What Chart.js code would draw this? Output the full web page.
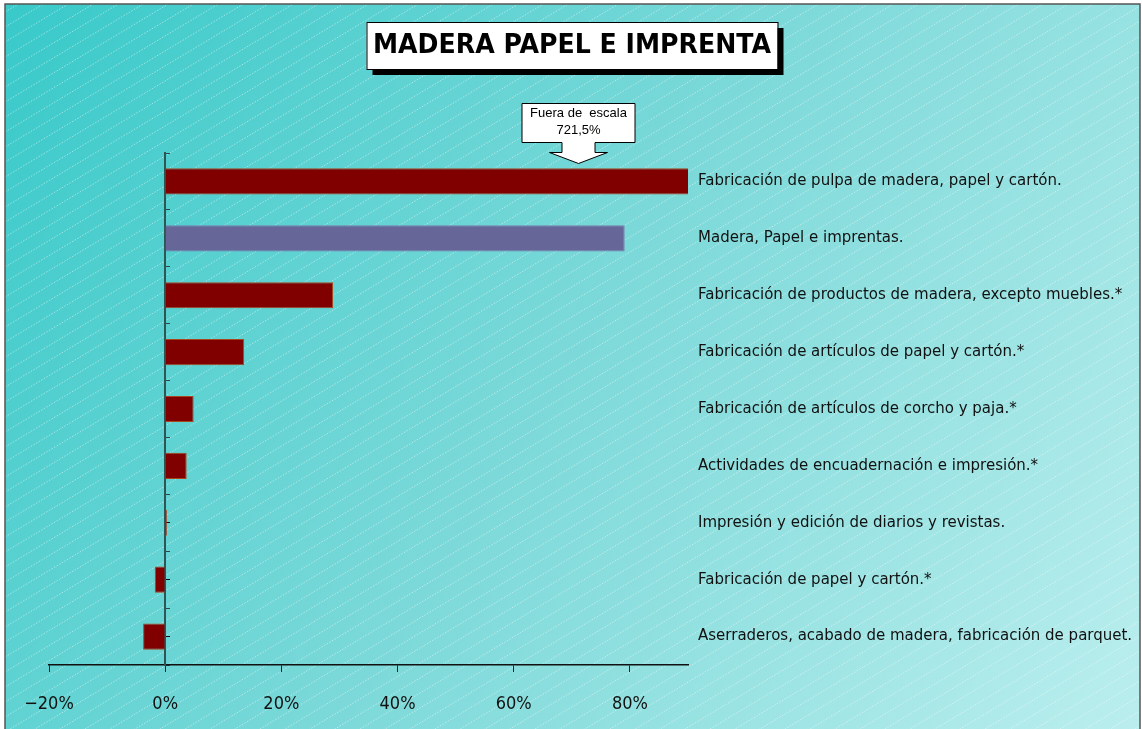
<!DOCTYPE html>
<html><head><meta charset="utf-8">
<script src="https://cdn.jsdelivr.net/npm/chart.js@4/dist/chart.umd.min.js"></script>
<style>html,body{margin:0;padding:0;background:#fff;}#wrap{width:1142px;height:729px;}</style>
</head><body><div id="wrap"><canvas id="c" width="1142" height="729"></canvas></div>
<script>
const categories = [
  'Fabricación de pulpa de madera, papel y cartón.',
  'Madera, Papel e imprentas.',
  'Fabricación de productos de madera, excepto muebles.*',
  'Fabricación de artículos de papel y cartón.*',
  'Fabricación de artículos de corcho y paja.*',
  'Actividades de encuadernación e impresión.*',
  'Impresión y edición de diarios y revistas.',
  'Fabricación de papel y cartón.*',
  'Aserraderos, acabado de madera, fabricación de parquet.'
];
const values = [721.5, 79.1, 28.9, 13.6, 4.9, 3.7, 0.3, -1.8, -3.8];
const barColors = ['#800000', '#666699', '#800000', '#800000', '#800000', '#800000', '#800000', '#800000', '#800000'];
const barBorders = ['#a8451c', '#7a7aaa', '#a8451c', '#a8451c', '#a8451c', '#a8451c', '#c2501a', '#a8451c', '#a8451c'];
const xTickValues = [-20, 0, 20, 40, 60, 80];
const xMin = -20, xMax = 90;
const titleText = 'MADERA PAPEL E IMPRENTA';
const calloutLines = ['Fuera de  escala', '721,5%'];
const calloutAtValue = 71;

const backdrop = {
  id: 'backdrop',
  beforeDraw(chart) {
    const {ctx, width, height} = chart;
    ctx.save();
    ctx.fillStyle = '#ffffff';
    ctx.fillRect(0, 0, width, height);
    const fx = 5, fy = 4, fw = 1135, fh = height + 10;
    const g = ctx.createLinearGradient(0, 0, width, height);
    g.addColorStop(0, '#38c9c9');
    g.addColorStop(0.5, '#7dd9d9');
    g.addColorStop(1, '#bbeeee');
    ctx.fillStyle = g;
    ctx.fillRect(fx, fy, fw, fh);
    ctx.beginPath();
    ctx.rect(fx, fy, fw, fh);
    ctx.clip();
    ctx.strokeStyle = 'rgba(255,255,255,0.45)';
    ctx.lineWidth = 1;
    ctx.setLineDash([1.5, 1.5]);
    const slope = 0.6, step = 15;
    for (let c = 0; c < height + width * slope + step; c += step) {
      ctx.beginPath();
      ctx.moveTo(0, c);
      ctx.lineTo(width, c - width * slope);
      ctx.stroke();
    }
    ctx.restore();
  },
  afterDraw(chart) {
    const {ctx, width, height, chartArea} = chart;
    const xs = chart.scales.x;
    ctx.save();
    ctx.fillStyle = '#ffffff';
    ctx.fillRect(1140, 0, width - 1140, height);
    ctx.strokeStyle = '#555';
    ctx.lineWidth = 1.5;
    ctx.strokeRect(5, 4, 1135, height + 10);

    // title box
    const tw = 411, th = 47, tcx = width / 2 + 1, ty = 22;
    const tx = tcx - tw / 2;
    ctx.fillStyle = '#000';
    ctx.fillRect(tx + 6, ty + 6, tw, th);
    ctx.fillStyle = '#fff';
    ctx.fillRect(tx, ty, tw, th);
    ctx.strokeStyle = '#000';
    ctx.lineWidth = 1;
    ctx.strokeRect(tx + 0.5, ty + 0.5, tw, th);
    ctx.font = 'bold 26px "DejaVu Sans"';
    ctx.fillStyle = '#000';
    ctx.textAlign = 'center';
    ctx.textBaseline = 'middle';
    const mw = ctx.measureText(titleText).width;
    const sx = 398 / mw;
    ctx.save();
    ctx.translate(tcx, ty + th / 2 + 1);
    ctx.scale(sx, 1);
    ctx.fillText(titleText, 0, 0);
    ctx.restore();

    // callout
    const cx = Math.round(xs.getPixelForValue(calloutAtValue)) + 0.5;
    const by = chartArea.top - 49.5;
    const bw = 113, bh = 39;
    const l = cx - bw / 2, r = cx + bw / 2, b = by + bh;
    ctx.beginPath();
    ctx.moveTo(l, by);
    ctx.lineTo(r, by);
    ctx.lineTo(r, b);
    ctx.lineTo(cx + 16.5, b);
    ctx.lineTo(cx + 16.5, b + 10);
    ctx.lineTo(cx + 29, b + 10);
    ctx.lineTo(cx, b + 21);
    ctx.lineTo(cx - 29, b + 10);
    ctx.lineTo(cx - 16.5, b + 10);
    ctx.lineTo(cx - 16.5, b);
    ctx.lineTo(l, b);
    ctx.closePath();
    ctx.fillStyle = '#fff';
    ctx.fill();
    ctx.strokeStyle = '#000';
    ctx.lineWidth = 1;
    ctx.stroke();
    ctx.fillStyle = '#000';
    ctx.font = '13px "Liberation Sans"';
    ctx.textAlign = 'center';
    ctx.textBaseline = 'middle';
    ctx.fillText(calloutLines[0], cx, by + 10);
    ctx.fillText(calloutLines[1], cx, by + 27);
    ctx.restore();
  }
};

new Chart(document.getElementById('c'), {
  type: 'bar',
  data: {
    labels: categories,
    datasets: [{
      data: values,
      backgroundColor: barColors,
      borderColor: barBorders,
      borderWidth: 1,
      barPercentage: 0.46,
      categoryPercentage: 1,
      xAxisID: 'x',
      yAxisID: 'y'
    }]
  },
  options: {
    indexAxis: 'y',
    responsive: false,
    devicePixelRatio: 1,
    animation: false,
    layout: { padding: { top: 153, left: 49, right: 0, bottom: 0 } },
    plugins: { legend: { display: false }, tooltip: { enabled: false }, title: { display: false } },
    scales: {
      x: {
        type: 'linear', position: 'bottom', min: xMin, max: xMax,
        afterBuildTicks: s => { s.ticks = xTickValues.map(v => ({ value: v })); },
        grid: { drawOnChartArea: false, drawTicks: true, tickLength: 7, color: '#222', lineWidth: 1 },
        border: { display: true, color: '#111', width: 1.5 },
        ticks: { font: { family: 'DejaVu Sans Condensed', size: 18 }, color: '#111', padding: 22,
                 callback: v => (v < 0 ? '\u2212' + Math.abs(v) : v) + '%' },
        afterFit: s => { s.height = 64; }
      },
      y: {
        type: 'category', position: { x: 0 }, offset: true,
        grid: { display: true, drawOnChartArea: false, offset: true, drawTicks: true, tickLength: -6, color: '#2a4a4a', lineWidth: 1 },
        border: { display: true, color: '#2f5656', width: 2 },
        ticks: { display: false }
      },
      yc: {
        type: 'category', labels: categories, position: { x: 0 }, offset: true,
        grid: { display: true, drawOnChartArea: false, offset: false, drawTicks: true, tickLength: -5, color: '#111', lineWidth: 1 },
        border: { display: false },
        ticks: { display: false }
      },
      y2: {
        type: 'category', labels: categories, position: 'right', offset: true,
        grid: { display: false, drawTicks: false },
        border: { display: false },
        ticks: { font: { family: 'DejaVu Sans', size: 15 }, color: '#111', padding: 10, autoSkip: false },
        afterFit: s => { s.width = 454; }
      }
    }
  },
  plugins: [backdrop]
});
</script>
</body></html>
